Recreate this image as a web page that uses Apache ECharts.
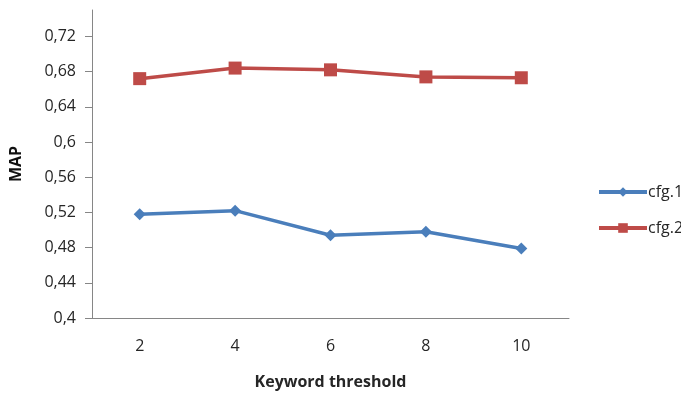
<!DOCTYPE html>
<html>
<head>
<meta charset="utf-8">
<script src="https://cdn.jsdelivr.net/npm/echarts@6/dist/echarts.min.js"></script>
<style>
  html, body { margin: 0; padding: 0; background: #fff; }
  #chart { width: 681px; height: 395px; }
</style>
</head>
<body>
<div id="chart"></div>
<script>
// Keyword threshold values on the x axis
const thresholds = ['2', '4', '6', '8', '10'];
// MAP per configuration
const cfg1 = [0.518, 0.522, 0.494, 0.498, 0.479];
const cfg2 = [0.672, 0.684, 0.682, 0.674, 0.673];
// Y axis ticks
const yTicks = [0.4, 0.44, 0.48, 0.52, 0.56, 0.6, 0.64, 0.68, 0.72];

const font = '"Open Sans", "Liberation Sans", sans-serif';
const textColor = '#262626';
const axisColor = '#868686';
const chart = echarts.init(document.getElementById('chart'), null, { renderer: 'canvas' });

chart.setOption({
  animation: false,
  textStyle: { fontFamily: font },
  grid: { left: 87, right: 112, top: 10, bottom: 65, containLabel: false },
  legend: {
    orient: 'vertical',
    left: 592,
    top: 179,
    itemWidth: 48,
    itemHeight: 12,
    itemGap: 20,
    lineStyle: { width: 4 },
    textStyle: { fontFamily: font, fontSize: 16, color: textColor, padding: [0, 0, 0, -4] },
    data: ['cfg.1', 'cfg.2']
  },
  xAxis: {
    type: 'category',
    data: thresholds,
    boundaryGap: true,
    name: 'Keyword threshold',
    nameLocation: 'middle',
    nameGap: 56,
    nameTextStyle: { fontFamily: font, fontSize: 16, fontWeight: 'bold', color: textColor },
    axisLine: { lineStyle: { color: axisColor, width: 1 } },
    axisTick: { show: false },
    axisLabel: { fontFamily: font, fontSize: 16, color: textColor, margin: 20 }
  },
  yAxis: {
    type: 'value',
    min: 0.4,
    max: 0.75,
    interval: 0.04,
    name: 'MAP',
    nameLocation: 'middle',
    nameGap: 68,
    nameRotate: 90,
    nameTextStyle: { fontFamily: font, fontSize: 16, fontWeight: 'bold', color: '#111' },
    splitLine: { show: false },
    axisLine: { show: true, lineStyle: { color: axisColor, width: 1 } },
    axisTick: { show: true, length: 7, lineStyle: { color: axisColor }, customValues: yTicks },
    axisLabel: {
      fontFamily: font, fontSize: 16, color: textColor, margin: 16,
      customValues: yTicks,
      formatter: v => String(Math.round(v * 100) / 100).replace('.', ',')
    }
  },
  series: [
    {
      name: 'cfg.1',
      type: 'line',
      data: cfg1,
      symbol: 'diamond',
      symbolSize: 12,
      lineStyle: { color: '#4a7ebb', width: 3.5 },
      itemStyle: { color: '#4a7ebb' }
    },
    {
      name: 'cfg.2',
      type: 'line',
      data: cfg2,
      symbol: 'rect',
      symbolSize: 13,
      lineStyle: { color: '#be4b48', width: 3.5 },
      itemStyle: { color: '#be4b48' }
    }
  ]
});
</script>
</body>
</html>
